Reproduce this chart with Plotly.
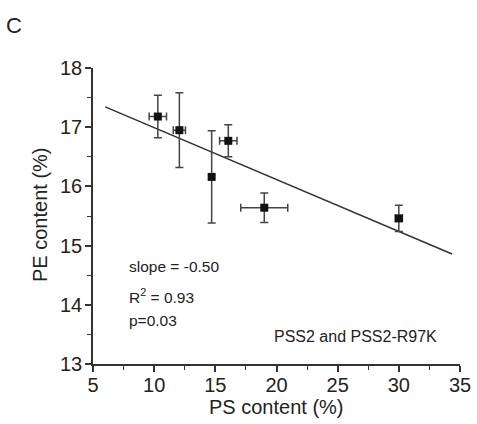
import plotly.graph_objects as go

ps_content = [10.3, 12.06, 14.7, 16.06, 19.0, 30.0]
pe_content = [17.18, 16.95, 16.16, 16.77, 15.64, 15.46]
ps_err = [0.71, 0.5, 0.0, 0.71, 1.92, 0.29]
pe_err = [0.36, 0.63, 0.78, 0.27, 0.25, 0.22]

fit_x = [6.0, 34.35]
fit_intercept = 17.87
fit_slope = -0.0877
fit_y = [fit_intercept + fit_slope * x for x in fit_x]

FONT = "Liberation Sans, Arial, sans-serif"
W, H = 477, 424
ML, MR, MT, MB = 93, 17, 68, 60
PW, PH = W - ML - MR, H - MT - MB

fig = go.Figure()
fig.add_trace(go.Scatter(
    x=fit_x, y=fit_y, mode="lines",
    line=dict(color="#333333", width=1.5), showlegend=False, hoverinfo="skip"))
fig.add_trace(go.Scatter(
    x=ps_content, y=pe_content, mode="markers",
    marker=dict(symbol="square", size=8, color="#111111"),
    error_x=dict(type="data", array=ps_err, color="#444444", thickness=1.5, width=4),
    error_y=dict(type="data", array=pe_err, color="#444444", thickness=1.5, width=4),
    showlegend=False))

axis_common = dict(
    showline=True, linecolor="#333333", linewidth=1.5,
    ticks="outside", ticklen=6, tickwidth=1.5, tickcolor="#333333",
    showgrid=False, zeroline=False, mirror=False, automargin=False,
    tickfont=dict(family=FONT, size=20, color="#222222"),
)

fig.update_xaxes(range=[5, 35], dtick=5, tick0=5, ticklabelstandoff=-4,
                 minor=dict(dtick=2.5, tick0=5, ticklen=4, tickwidth=1.2, tickcolor="#333333", ticks="outside"),
                 **axis_common)
fig.update_yaxes(range=[13, 18], dtick=1, tick0=13, ticklabelstandoff=-1,
                 minor=dict(dtick=0.5, tick0=13, ticklen=4, tickwidth=1.2, tickcolor="#333333", ticks="outside"),
                 **axis_common)

def px(xp):
    return (xp - ML) / PW

def py(yp):
    return 1 - (yp - MT) / PH

ann_font = dict(family=FONT, size=15.5, color="#222222")
label_font = dict(family=FONT, size=16, color="#222222")
title_font = dict(family=FONT, size=20, color="#222222")
fig.update_layout(
    width=W, height=H,
    margin=dict(l=ML, r=MR, t=MT, b=MB),
    paper_bgcolor="white", plot_bgcolor="white",
    annotations=[
        dict(text="C", x=px(4), y=py(25), xref="paper", yref="paper", showarrow=False,
             font=dict(family=FONT, size=22, color="#222222"), xanchor="left", yanchor="middle"),
        dict(text="PS content (%)", x=px(276), y=py(407), xref="paper", yref="paper", showarrow=False,
             font=title_font, xanchor="center", yanchor="middle"),
        dict(text="PE content (%)", x=px(40), y=py(215), xref="paper", yref="paper", showarrow=False,
             font=title_font, xanchor="center", yanchor="middle", textangle=-90),
        dict(text="slope = -0.50", xref="x", yref="y", x=7.78, y=14.64, showarrow=False,
             font=ann_font, xanchor="left", yanchor="middle"),
        dict(text="R<sup>2</sup> = 0.93", xref="x", yref="y", x=7.78, y=14.15, showarrow=False,
             font=ann_font, xanchor="left", yanchor="middle"),
        dict(text="p=0.03", xref="x", yref="y", x=7.78, y=13.74, showarrow=False,
             font=ann_font, xanchor="left", yanchor="middle"),
        dict(text="PSS2 and PSS2-R97K", xref="x", yref="y", x=19.6, y=13.46, showarrow=False,
             font=label_font, xanchor="left", yanchor="middle"),
    ],
)

fig.write_html("out.html")
